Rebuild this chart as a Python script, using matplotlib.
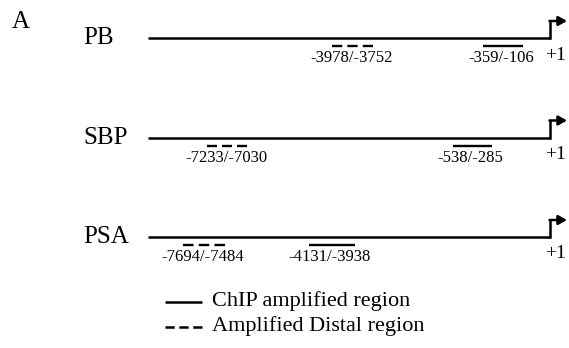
import matplotlib
matplotlib.use("Agg")

import matplotlib.pyplot as plt

# ── data (schematic positions along the promoter line, in px-like units) ──
genes = ["PB", "SBP", "PSA"]
line_start = 148
tss = 550                      # +1 position

chip_regions = [(483, 523), (453, 492), (309, 355)]
chip_labels = ["-359/-106", "-538/-285", "-4131/-3938"]

distal_regions = [(332, 373), (207, 247), (183, 225)]
distal_labels = ["-3978/-3752", "-7233/-7030", "-7694/-7484"]

legend_items = ["ChIP amplified region", "Amplified Distal region"]

# ── style ────────────────────────────────────────────────────────
plt.rcParams["font.family"] = ["Liberation Serif", "DejaVu Serif"]
row_gap = 99.5
row0 = 38


def three_dashes(length_px, lw):
    # 3 dashes, 2 gaps (gap = half a dash) filling exactly length_px
    d = length_px / 4 * 72 / 100 / lw
    return (0, (d, d / 2))


fig = plt.figure(figsize=(5.69, 3.48), dpi=100)
ax = fig.add_axes([0, 0, 1, 1])
ax.set_xlim(0, 569)
ax.set_ylim(348, 0)
ax.axis("off")

ax.text(12, 22, "A", fontsize=18, ha="left", va="center")

for i, gene in enumerate(genes):
    y = row0 + i * row_gap
    ax.text(83, y, gene, fontsize=18, ha="left", va="center")

    # promoter line + TSS arrow
    ax.plot([line_start, tss], [y, y], color="black", lw=1.8,
            solid_capstyle="butt")
    ax.plot([tss, tss], [y, y - 17], color="black", lw=1.8,
            solid_capstyle="projecting")
    ax.annotate("", xy=(567, y - 17), xytext=(tss - 0.5, y - 17),
                arrowprops=dict(arrowstyle="-|>,head_length=0.5,head_width=0.28",
                                lw=1.8, color="black", shrinkA=0, shrinkB=0,
                                mutation_scale=10))
    ax.text(555, y + 17, "+1", fontsize=14, ha="center", va="center")

    # ChIP region (solid)
    x0, x1 = chip_regions[i]
    ax.plot([x0, x1], [y + 8, y + 8], color="black", lw=1.7,
            solid_capstyle="butt")
    ax.text((x0 + x1) / 2 - 2, y + 20, chip_labels[i], fontsize=12,
            ha="center", va="center")

    # distal region (dashed)
    x0, x1 = distal_regions[i]
    ax.plot([x0, x1], [y + 8, y + 8], color="black", lw=1.7,
            linestyle=three_dashes(x1 - x0, 1.7), dash_capstyle="butt")
    ax.text((x0 + x1) / 2 - 1, y + 20, distal_labels[i], fontsize=12,
            ha="center", va="center")

# ── legend ───────────────────────────────────────────────────────
ax.plot([165, 202], [302, 302], color="black", lw=1.8, solid_capstyle="butt")
ax.text(212, 301, legend_items[0], fontsize=16, ha="left", va="center")
ax.plot([165, 202], [327, 327], color="black", lw=1.8,
        linestyle=three_dashes(37, 1.8), dash_capstyle="butt")
ax.text(212, 326, legend_items[1], fontsize=16, ha="left", va="center")

fig.savefig("out.png", dpi=100)
